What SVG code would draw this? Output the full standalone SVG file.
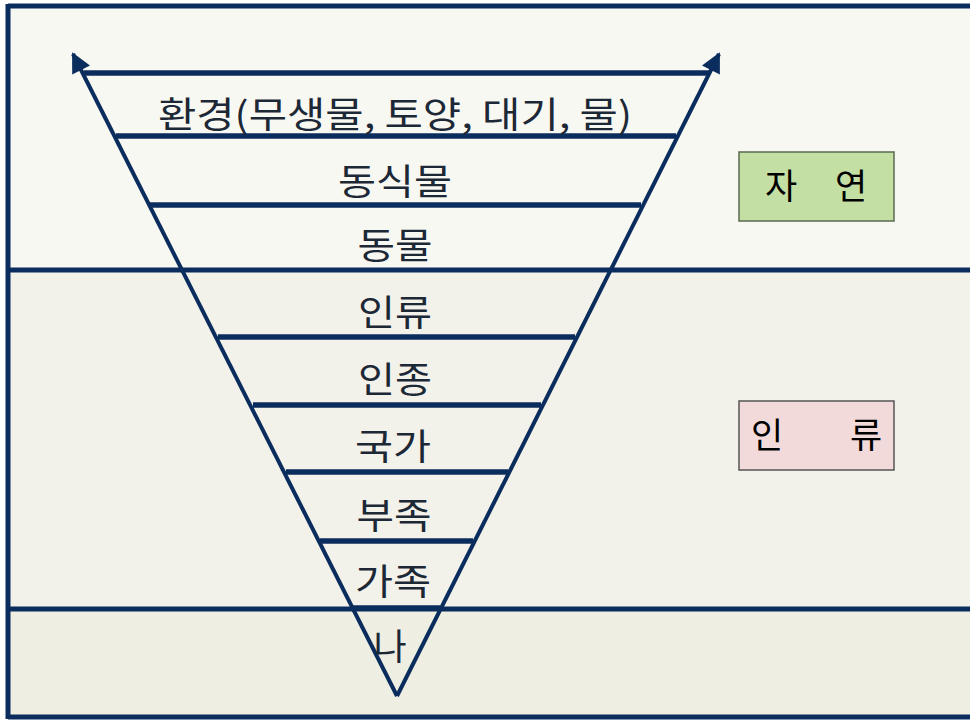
<svg xmlns="http://www.w3.org/2000/svg" width="970" height="721" viewBox="0 0 970 721">
<style>
.frame{stroke:#0b2d5e;stroke-width:5;fill:none}
.side{stroke:#0b2d5e;stroke-width:4;fill:none}
.bar{stroke:#0b2d5e;stroke-width:5.5;fill:none}
.lbl{font-family:"Noto Sans CJK KR","Noto Sans",sans-serif;font-size:36px;fill:#1c2836;text-anchor:middle}
.box{font-family:"Noto Sans CJK KR","Noto Sans",sans-serif;font-size:35px;fill:#000;text-anchor:middle}
</style>
<defs>
<marker id="ah" viewBox="0 0 10 10" refX="9" refY="5" markerWidth="5.5" markerHeight="5" orient="auto" markerUnits="strokeWidth">
<path d="M0,0 L10,5 L0,10 z" fill="#0b2d5e"/>
</marker>
</defs>
<rect x="0" y="0" width="970" height="721" fill="#ffffff"/>
<rect x="8" y="6" width="962" height="264" fill="#f8f8f3"/>
<rect x="8" y="270" width="962" height="339" fill="#f3f2ea"/>
<rect x="8" y="609" width="962" height="108" fill="#efeee2"/>
<g id="frame">
<line class="frame" x1="8" y1="6" x2="970" y2="6"/>
<line class="frame" x1="8" y1="4" x2="8" y2="719"/>
<line class="frame" x1="8" y1="717" x2="970" y2="717"/>
<line class="frame" x1="8" y1="270" x2="970" y2="270" stroke-width="6"/>
<line class="frame" x1="8" y1="609" x2="970" y2="609" stroke-width="5"/>
</g>
<g id="connectors">
<line class="side" x1="397" y1="696" x2="73" y2="54" marker-end="url(#ah)"/>
<line class="side" x1="397" y1="696" x2="719" y2="54" marker-end="url(#ah)"/>
<line class="bar" x1="84" y1="73" x2="710" y2="73"/>
<line class="bar" x1="116" y1="136" x2="676" y2="136"/>
<line class="bar" x1="150" y1="205" x2="641" y2="205"/>
<line class="bar" x1="218" y1="337" x2="575" y2="337"/>
<line class="bar" x1="253" y1="405" x2="541" y2="405"/>
<line class="bar" x1="286" y1="472" x2="508" y2="472"/>
<line class="bar" x1="320" y1="541" x2="473" y2="541"/>
<line class="bar" x1="353" y1="608" x2="440" y2="608"/>
</g>
<g id="n-env"><text class="lbl" x="395" y="128" textLength="474" lengthAdjust="spacingAndGlyphs">환경(무생물, 토양, 대기, 물)</text></g>
<g id="n-plants"><text class="lbl" x="395" y="195" textLength="114" lengthAdjust="spacingAndGlyphs">동식물</text></g>
<g id="n-animals"><text class="lbl" x="395" y="259" textLength="75" lengthAdjust="spacingAndGlyphs">동물</text></g>
<g id="n-humankind"><text class="lbl" x="395" y="326" textLength="74" lengthAdjust="spacingAndGlyphs">인류</text></g>
<g id="n-race"><text class="lbl" x="395" y="393" textLength="74" lengthAdjust="spacingAndGlyphs">인종</text></g>
<g id="n-nation"><text class="lbl" x="393" y="460" textLength="76" lengthAdjust="spacingAndGlyphs">국가</text></g>
<g id="n-tribe"><text class="lbl" x="394" y="529" textLength="75" lengthAdjust="spacingAndGlyphs">부족</text></g>
<g id="n-family"><text class="lbl" x="393" y="595" textLength="76" lengthAdjust="spacingAndGlyphs">가족</text></g>
<g id="n-me"><text class="lbl" x="390" y="660">나</text></g>
<g id="box-nature">
<rect x="739" y="152" width="155" height="69" fill="#c4dfa3" stroke="#5a6a50" stroke-width="1.5"/>
<text class="box" y="199"><tspan x="781">자</tspan><tspan x="851">연</tspan></text>
</g>
<g id="box-human">
<rect x="739" y="401" width="155" height="69" fill="#f2dada" stroke="#555" stroke-width="1.5"/>
<text class="box" y="448"><tspan x="767">인</tspan><tspan x="866">류</tspan></text>
</g>
</svg>
